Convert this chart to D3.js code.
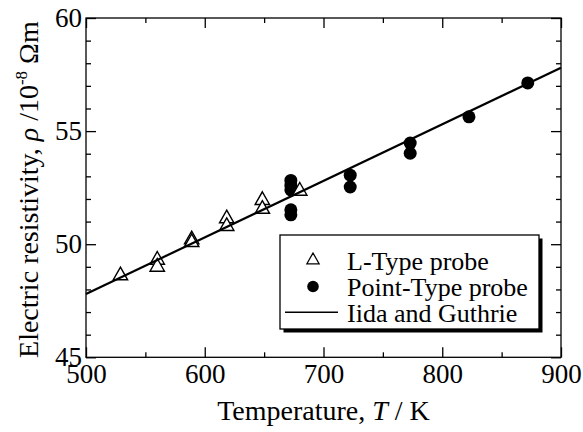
<!DOCTYPE html>
<html>
<head>
<meta charset="utf-8">
<script src="https://cdn.jsdelivr.net/npm/d3@7"></script>
<style>
  body { margin: 0; background: #fff; }
  svg { display: block; font-family: "Liberation Serif", "Times New Roman", serif; }
  .axis path.domain { display: none; }
  .axis line { stroke: #000; stroke-width: 1.3; }
  .axis text { font-size: 27px; fill: #000; font-family: "Liberation Serif", serif; }
</style>
</head>
<body>
<div id="chart"></div>
<script>
// L-Type probe (open triangles)
const lTypeT = [529, 560, 560, 589, 589, 618.5, 618.5, 648.5, 648.5, 680];
const lTypeRho = [48.70, 49.39, 49.08, 50.29, 50.17, 51.22, 50.88, 52.03, 51.64, 52.44];

// Point-Type probe (filled circles)
const pointT = [672.5, 672.5, 672.5, 672.5, 672.5, 722.5, 722.5, 773, 773, 822.5, 872];
const pointRho = [52.82, 52.6, 52.4, 51.52, 51.3, 53.05, 52.53, 54.47, 54.02, 55.63, 57.13];

// Iida and Guthrie line
const iidaT = [500, 900];
const iidaRho = [47.8, 57.8];

const xMajor = [500, 600, 700, 800, 900];
const xMinor = [550, 650, 750, 850];
const yMajor = [45, 50, 55, 60];
const yMinor = d3.range(45, 61).filter(v => v % 5 !== 0);

const legendLabels = ["L-Type probe", "Point-Type probe", "Iida and Guthrie"];

const width = 583, height = 432;
const mLeft = 86, mRight = 561, mTop = 18, mBottom = 357.3;

const svg = d3.select("#chart").append("svg")
    .attr("width", width)
    .attr("height", height);

const x = d3.scaleLinear().domain([500, 900]).range([mLeft, mRight]);
const y = d3.scaleLinear().domain([45, 60]).range([mBottom, mTop]);

// inward ticks on all four sides
function ticks(axisFn, pos, vals, size, labels) {
    const a = axisFn.tickValues(vals).tickSize(-size).tickSizeOuter(0);
    if (!labels) a.tickFormat("");
    return svg.append("g").attr("class", "axis").attr("transform", pos).call(a);
}
const gx = ticks(d3.axisBottom(x), `translate(0,${mBottom})`, xMajor, 10, true);
gx.selectAll("text").attr("dy", "0.95em").attr("y", 0);
ticks(d3.axisBottom(x), `translate(0,${mBottom})`, xMinor, 5, false);
ticks(d3.axisTop(x), `translate(0,${mTop})`, xMajor, 10, false);
ticks(d3.axisTop(x), `translate(0,${mTop})`, xMinor, 5, false);
const gy = ticks(d3.axisLeft(y), `translate(${mLeft},0)`, yMajor, 10, true);
gy.selectAll("text").attr("x", -4);
ticks(d3.axisLeft(y), `translate(${mLeft},0)`, yMinor, 5, false);
ticks(d3.axisRight(y), `translate(${mRight},0)`, yMajor, 10, false);
ticks(d3.axisRight(y), `translate(${mRight},0)`, yMinor, 5, false);

// frame
svg.append("rect")
    .attr("x", mLeft).attr("y", mTop)
    .attr("width", mRight - mLeft).attr("height", mBottom - mTop)
    .attr("fill", "none").attr("stroke", "#000").attr("stroke-width", 1.3);

const tri = "M0,-6.5L7.2,6.2L-7.2,6.2Z";

// Point-Type probe
svg.selectAll(".dot")
    .data(pointT.map((t, i) => ({ t, r: pointRho[i] })))
    .enter().append("circle")
    .attr("class", "dot")
    .attr("cx", d => x(d.t))
    .attr("cy", d => y(d.r))
    .attr("r", 6.5)
    .attr("fill", "#000");

// L-Type probe
svg.selectAll(".tri")
    .data(lTypeT.map((t, i) => ({ t, r: lTypeRho[i] })))
    .enter().append("path")
    .attr("class", "tri")
    .attr("d", tri)
    .attr("transform", d => `translate(${x(d.t)},${y(d.r)})`)
    .attr("fill", "#fff")
    .attr("stroke", "#000")
    .attr("stroke-width", 1.4);

// Iida and Guthrie
const line = d3.line().x(d => x(d[0])).y(d => y(d[1]));
svg.append("path")
    .datum(iidaT.map((t, i) => [t, iidaRho[i]]))
    .attr("d", line)
    .attr("fill", "none")
    .attr("stroke", "#000")
    .attr("stroke-width", 2.2);

// axis titles
const xt = svg.append("text")
    .attr("x", (mLeft + mRight) / 2).attr("y", 420)
    .attr("text-anchor", "middle")
    .attr("font-size", 28);
xt.append("tspan").text("Temperature, ");
xt.append("tspan").attr("font-style", "italic").text("T");
xt.append("tspan").text(" / K");

const yt = svg.append("text")
    .attr("transform", `translate(38,${(mTop + mBottom) / 2 + 2}) rotate(-90)`)
    .attr("text-anchor", "middle")
    .attr("font-size", 28);
yt.append("tspan").text("Electric resistivity, ");
yt.append("tspan").attr("font-style", "italic").text("ρ");
yt.append("tspan").text(" /10");
yt.append("tspan").attr("font-size", 17).attr("dy", -11).text("-8");
yt.append("tspan").attr("dy", 11).text(" Ωm");

// legend
const lg = svg.append("g");
lg.append("rect")
    .attr("x", 283.5).attr("y", 238.5).attr("width", 259).attr("height", 94)
    .attr("fill", "#000");
lg.append("rect")
    .attr("x", 280).attr("y", 235).attr("width", 259).attr("height", 94)
    .attr("fill", "#fff").attr("stroke", "#000").attr("stroke-width", 1.3);
lg.append("path").attr("d", tri)
    .attr("transform", "translate(313,258.5) scale(0.85)")
    .attr("fill", "#fff").attr("stroke", "#000").attr("stroke-width", 1.5);
lg.append("circle").attr("cx", 313).attr("cy", 286.5).attr("r", 5.8).attr("fill", "#000");
lg.append("line").attr("x1", 285).attr("x2", 338).attr("y1", 312.3).attr("y2", 312.3)
    .attr("stroke", "#000").attr("stroke-width", 1.5);
lg.selectAll(".lt")
    .data(legendLabels)
    .enter().append("text")
    .attr("class", "lt")
    .attr("x", 347)
    .attr("y", (d, i) => 270 + i * 25.8)
    .attr("font-size", 26)
    .text(d => d);
</script>
</body>
</html>
